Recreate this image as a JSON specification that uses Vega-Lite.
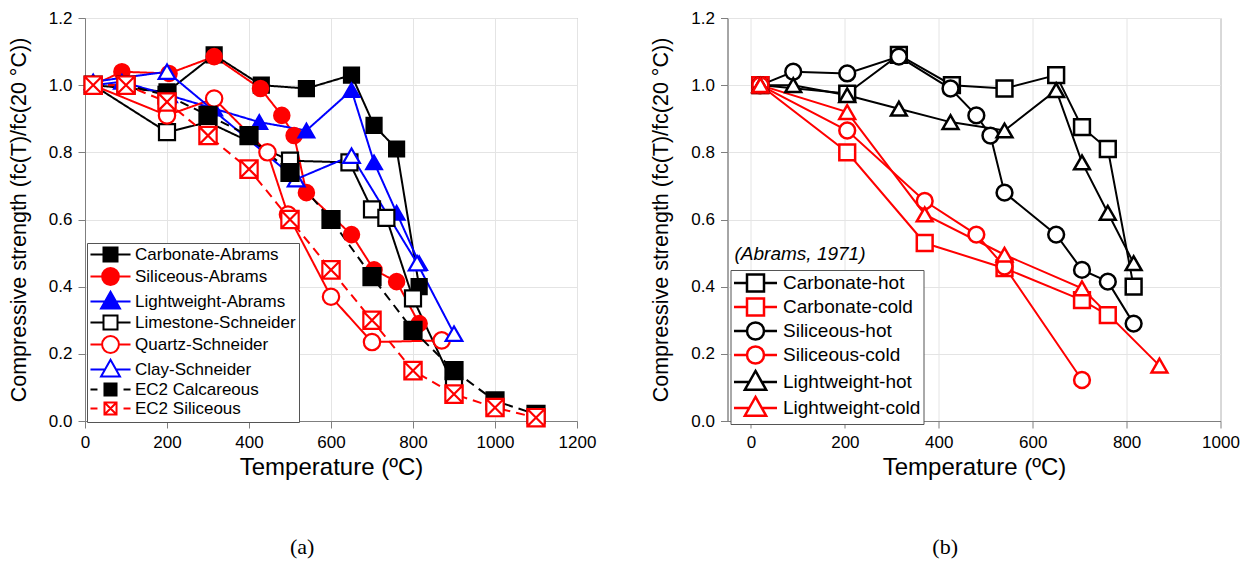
{
  "$schema": "https://vega.github.io/schema/vega-lite/v6.json",
  "background": "white",
  "padding": {"left": 7, "top": 8, "right": 5, "bottom": 5},
  "spacing": 52.5,
  "datasets": {
    "a": [
      {"s":"Carbonate-Abrams","t":20,"r":1.0},{"s":"Carbonate-Abrams","t":200,"r":0.98},{"s":"Carbonate-Abrams","t":315,"r":1.09},{"s":"Carbonate-Abrams","t":430,"r":1.0},{"s":"Carbonate-Abrams","t":540,"r":0.99},{"s":"Carbonate-Abrams","t":650,"r":1.03},{"s":"Carbonate-Abrams","t":705,"r":0.88},{"s":"Carbonate-Abrams","t":760,"r":0.81},{"s":"Carbonate-Abrams","t":815,"r":0.40},
      {"s":"Siliceous-Abrams","t":20,"r":1.0},{"s":"Siliceous-Abrams","t":90,"r":1.04},{"s":"Siliceous-Abrams","t":205,"r":1.035},{"s":"Siliceous-Abrams","t":315,"r":1.085},{"s":"Siliceous-Abrams","t":428,"r":0.99},{"s":"Siliceous-Abrams","t":480,"r":0.91},{"s":"Siliceous-Abrams","t":510,"r":0.85},{"s":"Siliceous-Abrams","t":540,"r":0.68},{"s":"Siliceous-Abrams","t":650,"r":0.555},{"s":"Siliceous-Abrams","t":705,"r":0.45},{"s":"Siliceous-Abrams","t":760,"r":0.415},{"s":"Siliceous-Abrams","t":815,"r":0.29},
      {"s":"Lightweight-Abrams","t":20,"r":1.0},{"s":"Lightweight-Abrams","t":90,"r":1.01},{"s":"Lightweight-Abrams","t":205,"r":0.97},{"s":"Lightweight-Abrams","t":315,"r":0.93},{"s":"Lightweight-Abrams","t":425,"r":0.89},{"s":"Lightweight-Abrams","t":540,"r":0.865},{"s":"Lightweight-Abrams","t":650,"r":0.985},{"s":"Lightweight-Abrams","t":705,"r":0.77},{"s":"Lightweight-Abrams","t":760,"r":0.62},{"s":"Lightweight-Abrams","t":815,"r":0.47},
      {"s":"Limestone-Schneider","t":20,"r":1.0},{"s":"Limestone-Schneider","t":200,"r":0.86},{"s":"Limestone-Schneider","t":300,"r":0.89},{"s":"Limestone-Schneider","t":500,"r":0.775},{"s":"Limestone-Schneider","t":645,"r":0.77},{"s":"Limestone-Schneider","t":700,"r":0.63},{"s":"Limestone-Schneider","t":735,"r":0.605},{"s":"Limestone-Schneider","t":800,"r":0.365},{"s":"Limestone-Schneider","t":900,"r":0.105},
      {"s":"Quartz-Schneider","t":20,"r":1.0},{"s":"Quartz-Schneider","t":200,"r":0.91},{"s":"Quartz-Schneider","t":315,"r":0.96},{"s":"Quartz-Schneider","t":445,"r":0.80},{"s":"Quartz-Schneider","t":495,"r":0.615},{"s":"Quartz-Schneider","t":600,"r":0.37},{"s":"Quartz-Schneider","t":700,"r":0.235},{"s":"Quartz-Schneider","t":870,"r":0.24},
      {"s":"Clay-Schneider","t":20,"r":1.01},{"s":"Clay-Schneider","t":200,"r":1.04},{"s":"Clay-Schneider","t":515,"r":0.72},{"s":"Clay-Schneider","t":650,"r":0.79},{"s":"Clay-Schneider","t":810,"r":0.47},{"s":"Clay-Schneider","t":900,"r":0.26},
      {"s":"EC2 Calcareous","t":20,"r":1.0},{"s":"EC2 Calcareous","t":100,"r":1.0},{"s":"EC2 Calcareous","t":200,"r":0.97},{"s":"EC2 Calcareous","t":300,"r":0.91},{"s":"EC2 Calcareous","t":400,"r":0.85},{"s":"EC2 Calcareous","t":500,"r":0.74},{"s":"EC2 Calcareous","t":600,"r":0.60},{"s":"EC2 Calcareous","t":700,"r":0.43},{"s":"EC2 Calcareous","t":800,"r":0.27},{"s":"EC2 Calcareous","t":900,"r":0.15},{"s":"EC2 Calcareous","t":1000,"r":0.06},{"s":"EC2 Calcareous","t":1100,"r":0.02},
      {"s":"EC2 Siliceous","t":20,"r":1.0},{"s":"EC2 Siliceous","t":100,"r":1.0},{"s":"EC2 Siliceous","t":200,"r":0.95},{"s":"EC2 Siliceous","t":300,"r":0.85},{"s":"EC2 Siliceous","t":400,"r":0.75},{"s":"EC2 Siliceous","t":500,"r":0.60},{"s":"EC2 Siliceous","t":600,"r":0.45},{"s":"EC2 Siliceous","t":700,"r":0.30},{"s":"EC2 Siliceous","t":800,"r":0.15},{"s":"EC2 Siliceous","t":900,"r":0.08},{"s":"EC2 Siliceous","t":1000,"r":0.04},{"s":"EC2 Siliceous","t":1100,"r":0.01}
    ],
    "b": [
      {"s":"Carbonate-hot","t":20,"r":1.0},{"s":"Carbonate-hot","t":205,"r":0.975},{"s":"Carbonate-hot","t":315,"r":1.09},{"s":"Carbonate-hot","t":428,"r":1.0},{"s":"Carbonate-hot","t":540,"r":0.99},{"s":"Carbonate-hot","t":650,"r":1.03},{"s":"Carbonate-hot","t":705,"r":0.875},{"s":"Carbonate-hot","t":760,"r":0.81},{"s":"Carbonate-hot","t":815,"r":0.40},
      {"s":"Carbonate-cold","t":20,"r":1.0},{"s":"Carbonate-cold","t":205,"r":0.80},{"s":"Carbonate-cold","t":370,"r":0.53},{"s":"Carbonate-cold","t":540,"r":0.455},{"s":"Carbonate-cold","t":705,"r":0.36},{"s":"Carbonate-cold","t":760,"r":0.315},
      {"s":"Siliceous-hot","t":20,"r":1.0},{"s":"Siliceous-hot","t":90,"r":1.04},{"s":"Siliceous-hot","t":205,"r":1.035},{"s":"Siliceous-hot","t":315,"r":1.085},{"s":"Siliceous-hot","t":425,"r":0.99},{"s":"Siliceous-hot","t":480,"r":0.91},{"s":"Siliceous-hot","t":510,"r":0.85},{"s":"Siliceous-hot","t":540,"r":0.68},{"s":"Siliceous-hot","t":650,"r":0.555},{"s":"Siliceous-hot","t":705,"r":0.45},{"s":"Siliceous-hot","t":760,"r":0.415},{"s":"Siliceous-hot","t":815,"r":0.29},
      {"s":"Siliceous-cold","t":20,"r":1.0},{"s":"Siliceous-cold","t":205,"r":0.865},{"s":"Siliceous-cold","t":370,"r":0.655},{"s":"Siliceous-cold","t":480,"r":0.555},{"s":"Siliceous-cold","t":540,"r":0.46},{"s":"Siliceous-cold","t":705,"r":0.122},
      {"s":"Lightweight-hot","t":20,"r":1.0},{"s":"Lightweight-hot","t":90,"r":1.0},{"s":"Lightweight-hot","t":205,"r":0.97},{"s":"Lightweight-hot","t":315,"r":0.93},{"s":"Lightweight-hot","t":425,"r":0.89},{"s":"Lightweight-hot","t":540,"r":0.865},{"s":"Lightweight-hot","t":650,"r":0.985},{"s":"Lightweight-hot","t":705,"r":0.77},{"s":"Lightweight-hot","t":760,"r":0.62},{"s":"Lightweight-hot","t":815,"r":0.47},
      {"s":"Lightweight-cold","t":20,"r":1.0},{"s":"Lightweight-cold","t":205,"r":0.92},{"s":"Lightweight-cold","t":370,"r":0.615},{"s":"Lightweight-cold","t":540,"r":0.495},{"s":"Lightweight-cold","t":705,"r":0.395},{"s":"Lightweight-cold","t":870,"r":0.165}
    ]
  },
  "hconcat": [
    {
      "width": 492,
      "height": 403,
      "data": {"name": "a"},
      "title": {"text": "(a)", "orient": "bottom", "font": "Liberation Serif", "fontSize": 22, "fontWeight": "normal", "color": "#000", "offset": 58, "frame": "bounds", "anchor": "middle"},
      "encoding": {
        "x": {"field": "t", "type": "quantitative", "scale": {"domain": [0, 1200], "nice": false}, "axis": {"values": [0,200,400,600,800,1000,1200], "format": "d", "title": "Temperature (ºC)"}},
        "y": {"field": "r", "type": "quantitative", "scale": {"domain": [0, 1.2], "nice": false}, "axis": {"values": [0,0.2,0.4,0.6,0.8,1.0,1.2], "format": ".1f", "title": "Compressive strength (fc(T)/fc(20 °C))", "titleFontSize": 21.5, "titlePadding": 18}}
      },
      "resolve": {"scale": {"stroke": "independent", "fill": "independent", "shape": "independent", "size": "independent", "strokeDash": "independent", "strokeWidth": "independent"}},
      "layer": [
        {
          "mark": {"type": "line", "clip": true},
          "encoding": {
            "detail": {"field": "s"},
            "stroke": {"field": "s", "type": "nominal", "scale": {"domain": ["Carbonate-Abrams","Siliceous-Abrams","Lightweight-Abrams","Limestone-Schneider","Quartz-Schneider","Clay-Schneider","EC2 Calcareous","EC2 Siliceous"], "range": ["#000000","#ff0000","#0000ff","#000000","#ff0000","#0000ff","#000000","#ff0000"]}, "legend": null},
            "strokeDash": {"field": "s", "type": "nominal", "scale": {"domain": ["Carbonate-Abrams","Siliceous-Abrams","Lightweight-Abrams","Limestone-Schneider","Quartz-Schneider","Clay-Schneider","EC2 Calcareous","EC2 Siliceous"], "range": [[1,0],[1,0],[1,0],[1,0],[1,0],[1,0],[9,6],[9,6]]}, "legend": null},
            "strokeWidth": {"field": "s", "type": "nominal", "scale": {"domain": ["Carbonate-Abrams","Siliceous-Abrams","Lightweight-Abrams","Limestone-Schneider","Quartz-Schneider","Clay-Schneider","EC2 Calcareous","EC2 Siliceous"], "range": [2,2,2,2,2,2,3.5,3.5]}, "legend": null}
          }
        },
        {
          "mark": {"type": "point", "opacity": 1, "strokeWidth": 2.2},
          "encoding": {
            "shape": {"field": "s", "type": "nominal", "scale": {"domain": ["Carbonate-Abrams","Siliceous-Abrams","Lightweight-Abrams","Limestone-Schneider","Quartz-Schneider","Clay-Schneider","EC2 Calcareous","EC2 Siliceous"], "range": ["square","circle","triangle-up","square","circle","triangle-up","square","M-1,-1H1V1H-1ZM-1,-1L1,1M1,-1L-1,1"]}, "legend": null},
            "size": {"field": "s", "type": "nominal", "scale": {"domain": ["Carbonate-Abrams","Siliceous-Abrams","Lightweight-Abrams","Limestone-Schneider","Quartz-Schneider","Clay-Schneider","EC2 Calcareous","EC2 Siliceous"], "range": [225,300,380,225,300,380,90,90]}, "legend": null},
            "stroke": {"field": "s", "type": "nominal", "scale": {"domain": ["Carbonate-Abrams","Siliceous-Abrams","Lightweight-Abrams","Limestone-Schneider","Quartz-Schneider","Clay-Schneider","EC2 Calcareous","EC2 Siliceous"], "range": ["#000000","#ff0000","#0000ff","#000000","#ff0000","#0000ff","#000000","#ff0000"]}, "legend": null},
            "fill": {"field": "s", "type": "nominal", "scale": {"domain": ["Carbonate-Abrams","Siliceous-Abrams","Lightweight-Abrams","Limestone-Schneider","Quartz-Schneider","Clay-Schneider","EC2 Calcareous","EC2 Siliceous"], "range": ["#000000","#ff0000","#0000ff","#ffffff","#ffffff","#ffffff","#000000","#ffffff"]}, "legend": null}
          }
        },
        {
          "transform": [{"filter": "datum.t < -100000"}],
          "mark": {"type": "point", "opacity": 1, "strokeWidth": 2, "size": 196},
          "encoding": {
            "shape": {"field": "s", "type": "nominal", "scale": {"domain": ["Carbonate-Abrams","Siliceous-Abrams","Lightweight-Abrams","Limestone-Schneider","Quartz-Schneider","Clay-Schneider","EC2 Calcareous","EC2 Siliceous"], "range": [
              "M-2.86,0H-1M1,0H2.86M-1,-1H1V1H-1Z",
              "M-2.86,0H-1.2M1.2,0H2.86M1.2,0A1.2,1.2,0,1,1,-1.2,0A1.2,1.2,0,1,1,1.2,0Z",
              "M-2.86,0H-0.79M0.79,0H2.86M0,-1.4L1.35,1H-1.35Z",
              "M-2.86,0H-1M1,0H2.86M-1,-1H1V1H-1Z",
              "M-2.86,0H-1.2M1.2,0H2.86M1.2,0A1.2,1.2,0,1,1,-1.2,0A1.2,1.2,0,1,1,1.2,0Z",
              "M-2.86,0H-0.79M0.79,0H2.86M0,-1.4L1.35,1H-1.35Z",
              "M-2.86,0H-1.86M1.86,0H2.86M-0.86,-0.86H0.86V0.86H-0.86Z",
              "M-2.86,0H-1.86M1.86,0H2.86M-0.86,-0.86H0.86V0.86H-0.86ZM-0.86,-0.86L0.86,0.86M0.86,-0.86L-0.86,0.86"]},
              "legend": {"title": null, "orient": "none", "legendX": 2, "legendY": 225, "padding": 3, "strokeColor": "#555555", "fillColor": "#ffffff", "labelFont": "Liberation Sans", "labelFontSize": 17, "labelColor": "#000000", "symbolSize": 196, "symbolStrokeWidth": 2, "symbolOffset": 12, "labelOffset": 16, "rowPadding": -2, "labelLimit": 300}},
            "stroke": {"field": "s", "type": "nominal", "scale": {"domain": ["Carbonate-Abrams","Siliceous-Abrams","Lightweight-Abrams","Limestone-Schneider","Quartz-Schneider","Clay-Schneider","EC2 Calcareous","EC2 Siliceous"], "range": ["#000000","#ff0000","#0000ff","#000000","#ff0000","#0000ff","#000000","#ff0000"]},
              "legend": {"title": null, "orient": "none", "legendX": 2, "legendY": 225, "padding": 3, "strokeColor": "#555555", "fillColor": "#ffffff", "labelFont": "Liberation Sans", "labelFontSize": 17, "labelColor": "#000000", "symbolSize": 196, "symbolStrokeWidth": 2, "symbolOffset": 12, "labelOffset": 16, "rowPadding": -2, "labelLimit": 300}},
            "fill": {"field": "s", "type": "nominal", "scale": {"domain": ["Carbonate-Abrams","Siliceous-Abrams","Lightweight-Abrams","Limestone-Schneider","Quartz-Schneider","Clay-Schneider","EC2 Calcareous","EC2 Siliceous"], "range": ["#000000","#ff0000","#0000ff","#ffffff","#ffffff","#ffffff","#000000","#ffffff"]},
              "legend": {"title": null, "orient": "none", "legendX": 2, "legendY": 225, "padding": 3, "strokeColor": "#555555", "fillColor": "#ffffff", "labelFont": "Liberation Sans", "labelFontSize": 17, "labelColor": "#000000", "symbolSize": 196, "symbolStrokeWidth": 2, "symbolOffset": 12, "labelOffset": 16, "rowPadding": -2, "labelLimit": 300}}
          }
        }
      ]
    },
    {
      "width": 493,
      "height": 403,
      "data": {"name": "b"},
      "title": {"text": "(b)", "orient": "bottom", "font": "Liberation Serif", "fontSize": 22, "fontWeight": "normal", "color": "#000", "offset": 58, "frame": "bounds", "anchor": "middle"},
      "encoding": {
        "x": {"field": "t", "type": "quantitative", "scale": {"domain": [-50, 1000], "nice": false}, "axis": {"values": [0,200,400,600,800,1000], "format": "d", "title": "Temperature (ºC)"}},
        "y": {"field": "r", "type": "quantitative", "scale": {"domain": [0, 1.2], "nice": false}, "axis": {"values": [0,0.2,0.4,0.6,0.8,1.0,1.2], "format": ".1f", "title": "Compressive strength (fc(T)/fc(20 °C))", "titleFontSize": 21.5, "titlePadding": 18}}
      },
      "resolve": {"scale": {"stroke": "independent", "fill": "independent", "shape": "independent", "size": "independent"}},
      "layer": [
        {
          "mark": {"type": "line", "clip": true, "strokeWidth": 2},
          "encoding": {
            "detail": {"field": "s"},
            "stroke": {"field": "s", "type": "nominal", "scale": {"domain": ["Carbonate-hot","Carbonate-cold","Siliceous-hot","Siliceous-cold","Lightweight-hot","Lightweight-cold"], "range": ["#000000","#ff0000","#000000","#ff0000","#000000","#ff0000"]}, "legend": null}
          }
        },
        {
          "mark": {"type": "point", "opacity": 1, "strokeWidth": 2.5, "fill": "#ffffff"},
          "encoding": {
            "shape": {"field": "s", "type": "nominal", "scale": {"domain": ["Carbonate-hot","Carbonate-cold","Siliceous-hot","Siliceous-cold","Lightweight-hot","Lightweight-cold"], "range": ["square","square","circle","circle","triangle-up","triangle-up"]}, "legend": null},
            "size": {"field": "s", "type": "nominal", "scale": {"domain": ["Carbonate-hot","Carbonate-cold","Siliceous-hot","Siliceous-cold","Lightweight-hot","Lightweight-cold"], "range": [250,250,300,300,420,420]}, "legend": null},
            "stroke": {"field": "s", "type": "nominal", "scale": {"domain": ["Carbonate-hot","Carbonate-cold","Siliceous-hot","Siliceous-cold","Lightweight-hot","Lightweight-cold"], "range": ["#000000","#ff0000","#000000","#ff0000","#000000","#ff0000"]}, "legend": null}
          }
        },
        {
          "transform": [{"filter": "datum.t < -100000"}],
          "mark": {"type": "point", "opacity": 1, "strokeWidth": 2.5, "size": 289, "fill": "#ffffff"},
          "encoding": {
            "shape": {"field": "s", "type": "nominal", "scale": {"domain": ["Carbonate-hot","Carbonate-cold","Siliceous-hot","Siliceous-cold","Lightweight-hot","Lightweight-cold"], "range": [
              "M-2.53,0H-1M1,0H2.53M-1,-1H1V1H-1Z",
              "M-2.53,0H-1M1,0H2.53M-1,-1H1V1H-1Z",
              "M-2.53,0H-1M1,0H2.53M1,0A1,1,0,1,1,-1,0A1,1,0,1,1,1,0Z",
              "M-2.53,0H-1M1,0H2.53M1,0A1,1,0,1,1,-1,0A1,1,0,1,1,1,0Z",
              "M-2.53,0H-0.74M0.74,0H2.53M0,-1.3L1.25,0.9H-1.25Z",
              "M-2.53,0H-0.74M0.74,0H2.53M0,-1.3L1.25,0.9H-1.25Z"]},
              "legend": {"title": null, "orient": "none", "legendX": 3, "legendY": 252, "padding": 3, "strokeColor": "#555555", "fillColor": "#ffffff", "labelFont": "Liberation Sans", "labelFontSize": 19, "labelColor": "#000000", "symbolSize": 289, "symbolStrokeWidth": 2.5, "symbolFillColor": "#ffffff", "symbolOffset": 12, "labelOffset": 17.5, "rowPadding": -4, "labelLimit": 300}},
            "stroke": {"field": "s", "type": "nominal", "scale": {"domain": ["Carbonate-hot","Carbonate-cold","Siliceous-hot","Siliceous-cold","Lightweight-hot","Lightweight-cold"], "range": ["#000000","#ff0000","#000000","#ff0000","#000000","#ff0000"]},
              "legend": {"title": null, "orient": "none", "legendX": 3, "legendY": 252, "padding": 3, "strokeColor": "#555555", "fillColor": "#ffffff", "labelFont": "Liberation Sans", "labelFontSize": 19, "labelColor": "#000000", "symbolSize": 289, "symbolStrokeWidth": 2.5, "symbolFillColor": "#ffffff", "symbolOffset": 12, "labelOffset": 17.5, "rowPadding": -4, "labelLimit": 300}}
          }
        },
        {
          "transform": [{"filter": "datum.s == 'Carbonate-hot' && datum.t == 20"}],
          "mark": {"type": "text", "text": "(Abrams, 1971)", "font": "Liberation Sans", "fontSize": 19, "fontStyle": "italic", "align": "left", "baseline": "middle", "fill": "#000000", "opacity": 1},
          "encoding": {
            "x": {"datum": -35},
            "y": {"datum": 0.497}
          }
        }
      ]
    }
  ],
  "config": {
    "font": "Liberation Sans",
    "view": {"stroke": "#9a9a9a", "strokeWidth": 1},
    "axis": {"labelFont": "Liberation Sans", "labelFontSize": 17, "labelColor": "#000000", "labelFlush": false, "titleFont": "Liberation Sans", "titleFontSize": 24, "titleFontWeight": "normal", "titleColor": "#000000", "domainColor": "#7f7f7f", "tickColor": "#7f7f7f", "gridColor": "#e4e4e4", "tickSize": 7, "labelPadding": 6, "titlePadding": 5}
  }
}
